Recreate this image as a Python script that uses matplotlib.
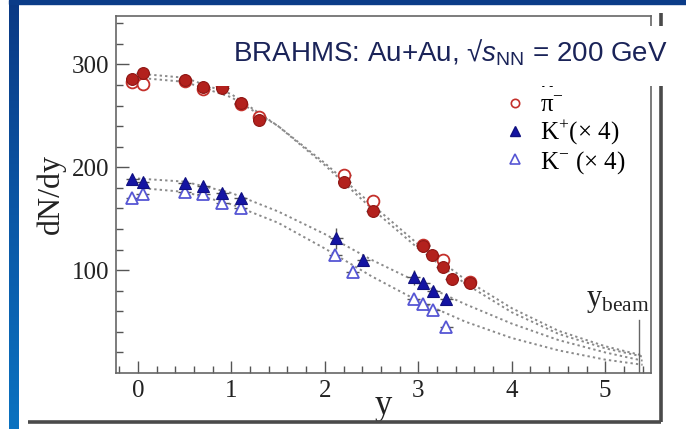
import numpy as np
import matplotlib
matplotlib.use("Agg")
import matplotlib.pyplot as plt
from matplotlib.lines import Line2D

# fonts: serif for the plot, sans for the banner
plt.rcParams['font.family'] = ['Liberation Serif', 'DejaVu Serif']
plt.rcParams['mathtext.fontset'] = 'custom'
plt.rcParams['mathtext.rm'] = 'Liberation Serif'
plt.rcParams['mathtext.it'] = 'Liberation Sans:italic'
plt.rcParams['mathtext.sf'] = 'Liberation Sans'

# data
pip_y = [-0.06, 0.05, 0.50, 0.70, 0.90, 1.10, 1.30, 2.21, 2.51, 3.05, 3.15, 3.26, 3.36, 3.55]
pip_dndy = [286, 292, 285, 278, 277, 262, 246, 186, 157, 123, 115, 103, 91, 87]

pim_y = [-0.06, 0.05, 0.50, 0.70, 0.90, 1.10, 1.30, 2.21, 2.51, 3.05, 3.26, 3.55]
pim_dndy = [283, 281, 284, 276, 280, 261, 249, 192, 167, 124, 110, 88]

kp_y = [-0.06, 0.05, 0.50, 0.70, 0.90, 1.10, 2.12, 2.41, 2.95, 3.05, 3.16, 3.30]
kp_dndy = [189, 186, 185, 182, 175, 170, 131, 110, 93, 87, 80, 72]
kp_err = [2, 2, 2, 2, 2, 2, 10, 3, 7, 5, 3, 3]

km_y = [-0.06, 0.05, 0.50, 0.70, 0.90, 1.10, 2.11, 2.30, 2.95, 3.05, 3.16, 3.30]
km_dndy = [170, 174, 176, 174, 165, 160, 115, 98, 72, 67, 61, 45]

fit_y = [0.0, 0.5, 1.0, 1.5, 2.0, 2.5, 3.0, 3.5, 4.0, 4.5, 5.0, 5.4]
fit_pip = [291, 287, 271, 240, 202, 160, 121, 87, 59, 38, 24, 16]
fit_pim = [287, 283, 268, 240, 204, 164, 125, 91, 63, 41, 26, 17]
fit_kp = [189, 186, 175, 157, 135, 110, 88, 67, 48, 32, 20, 12]
fit_km = [180, 176, 164, 146, 121, 94, 70, 50, 34, 22, 13, 8]

y_beam = 5.36

W, H = 686, 429
fig = plt.figure(figsize=(W / 100, H / 100), dpi=100, facecolor='white')

# blue slide frame: left strip with gradient, thin top band
strip = fig.add_axes([9 / W, 0, 9.5 / W, 1], zorder=-5)
grad = np.linspace(0, 1, 256).reshape(-1, 1)
cmap = matplotlib.colors.LinearSegmentedColormap.from_list('frame', ['#0a3984', '#0b57a6', '#0a72c0'])
strip.imshow(grad, aspect='auto', cmap=cmap, extent=[0, 1, 1, 0])
strip.axis('off')
fig.add_artist(plt.Rectangle((9 / W, 1 - 4 / H), 1, 4 / H, transform=fig.transFigure,
                             color='#0b3c88', zorder=-4))

# shadow of the card around the plot
fig.add_artist(Line2D([28 / W, 661 / W], [1 - 422 / H, 1 - 422 / H], transform=fig.transFigure,
                      color='#4a4a4a', lw=2.6, solid_capstyle='butt'))
fig.add_artist(Line2D([661 / W, 661 / W], [1 - 13 / H, 1 - 422 / H], transform=fig.transFigure,
                      color='#4a4a4a', lw=2.6, solid_capstyle='butt'))

ax = fig.add_axes([116 / W, 1 - 373 / H, (651 - 116) / W, (373 - 16) / H])
ax.set_xlim(-0.235, 5.49)
ax.set_ylim(0, 347)

fit_kw = dict(color='#8a8a8a', lw=1.4, linestyle=(0, (1.2, 1.6)), zorder=1)
ax.plot(fit_y, fit_pip, **fit_kw)
ax.plot(fit_y, fit_pim, **fit_kw)
ax.plot(fit_y, fit_kp, **fit_kw)
ax.plot(fit_y, fit_km, **fit_kw)

eb = dict(ecolor='#555555', elinewidth=1.0, capsize=0, linestyle='none', zorder=3)
ax.errorbar(pim_y, pim_dndy, xerr=0.07, marker='o', ms=8.5, mfc='white', mec='#c4302b',
            mew=1.3, **eb)
ax.errorbar(pip_y, pip_dndy, xerr=0.07, marker='o', ms=8.5, mfc='#b3211d', mec='#8e1512',
            mew=0.8, **eb)
ax.errorbar(km_y, km_dndy, xerr=0.07, marker='^', ms=9, mfc='white', mec='#5656d4',
            mew=1.3, **eb)
ax.errorbar(kp_y, kp_dndy, xerr=0.07, yerr=kp_err, marker='^', ms=9, mfc='#1414a3',
            mec='#101080', mew=0.8, **eb)

# beam rapidity marker
ax.plot([y_beam, y_beam], [0, 52], color='#666666', lw=1.0)
ax.text(5.47, 56, r'y$_{\rm beam}$', ha='right', va='bottom', fontsize=22, color='#222222')

ax.set_xticks([0, 1, 2, 3, 4, 5])
ax.set_xticks(np.arange(-0.2, 5.5, 0.2), minor=True)
ax.set_yticks([100, 200, 300])
ax.set_yticks(np.arange(20, 347, 20), minor=True)
ax.tick_params(which='both', direction='in', color='#555555', width=1.0,
               top=False, right=False, labelsize=18, labelcolor='#222222')
ax.tick_params(which='major', length=9, pad=5)
ax.tick_params(which='minor', length=5)
for s in ax.spines.values():
    s.set_color('#666666')
    s.set_linewidth(1.2)

ax.set_xlabel('y', fontsize=25, color='#222222', labelpad=-9)
ax.set_ylabel('dN/dy', fontsize=23, color='#222222', labelpad=4)

handles = [
    Line2D([], [], ls='none', marker='o', ms=6, mfc='#b3211d', mec='#8e1512'),
    Line2D([], [], ls='none', marker='o', ms=6, mfc='white', mec='#c4302b', mew=1.2),
    Line2D([], [], ls='none', marker='^', ms=7, mfc='#1414a3', mec='#101080'),
    Line2D([], [], ls='none', marker='^', ms=7, mfc='white', mec='#5656d4', mew=1.2),
]
labels = [r'π$^{+}$', r'π$^{-}$', r'K$^{+}$(× 4)', r'K$^{-}$ (× 4)']
ax.legend(handles, labels, loc='upper left', bbox_to_anchor=(505 / W, 1 - 69 / H),
          bbox_transform=fig.transFigure, frameon=False, fontsize=18, handlelength=0.8,
          handletextpad=0.6, labelspacing=0.05, borderpad=0, borderaxespad=0)

# banner over the plot, covering the top of the legend and the frame
fig.add_artist(plt.Rectangle((215 / W, 1 - 86 / H), (686 - 215) / W, 60 / H,
                             transform=fig.transFigure, fc='white', ec='none', zorder=9))
fig.text(450 / W, 1 - 53 / H, r'BRAHMS: Au+Au, √$s_{\mathsf{NN}}$ = 200 GeV',
         family=['Liberation Sans', 'DejaVu Sans'], fontsize=20, color='#1a2358',
         ha='center', va='center', zorder=10)

fig.savefig('out.png', dpi=100, facecolor='white')
